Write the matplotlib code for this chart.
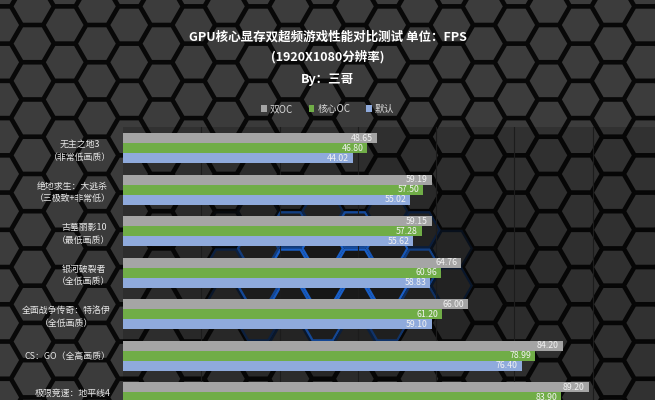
import numpy as np
import matplotlib
matplotlib.use("Agg")
import matplotlib.pyplot as plt
from matplotlib.collections import PolyCollection
from matplotlib.patches import Patch

plt.rcParams['font.family'] = ['Noto Sans CJK SC', 'DejaVu Sans']

# ---------------- data ----------------
categories = [
    "无主之地3\n（非常低画质）",
    "绝地求生：大逃杀\n（三极致+非常低）",
    "古墓丽影10\n（最低画质）",
    "银河破裂者\n（全低画质）",
    "全面战争传奇：特洛伊\n（全低画质）",
    "CS：GO（全高画质）",
    "极限竞速：地平线4\n（极低画质）",
]
series_names = ["双OC", "核心OC", "默认"]
dual_oc = [48.65, 59.19, 59.15, 64.76, 66.00, 84.20, 89.20]
core_oc = [46.80, 57.50, 57.28, 60.96, 61.20, 78.99, 83.90]
default = [44.02, 55.02, 55.62, 58.83, 59.10, 76.40, 79.20]
series_values = [dual_oc, core_oc, default]
series_colors = ["#a5a5a5", "#70ad47", "#8faadc"]

title_lines = ["GPU核心显存双超频游戏性能对比测试 单位：FPS",
               "(1920X1080分辨率)",
               "By：三哥"]

W, H = 655, 400
fig = plt.figure(figsize=(W / 100, H / 100), dpi=100)
fig.patch.set_facecolor("#111111")

# ---------------- hexagon background ----------------
bg = fig.add_axes([0, 0, 1, 1], zorder=0)
bg.set_xlim(0, W)
bg.set_ylim(H, 0)
bg.axis("off")
R = 21.5
dx = 1.5 * R
dy = np.sqrt(3) * R
x0, y0 = 580.7, 25.0
polys, fcs, ecs = [], [], []
ang = np.deg2rad(np.arange(0, 360, 60))
blue = np.array([0.12, 0.45, 0.95])
kmin = int(np.floor((0 - x0) / dx)) - 2
kmax = int(np.ceil((W - x0) / dx)) + 2
for k in range(kmin, kmax + 1):
    cx = x0 + k * dx
    off = dy / 2 if k % 2 else 0
    for j in range(-3, int(H / dy) + 3):
        cy = y0 + j * dy + off
        verts = np.column_stack([cx + (R - 1.3) * np.cos(ang), cy + (R - 1.3) * np.sin(ang)])
        polys.append(verts)
        d = np.exp(-((cx - 335) / 150) ** 2 - ((cy - 275) / 85) ** 2)
        g = 0.235 * (1 - 0.55 * d)
        fcs.append((g, g, g))
        db = np.exp(-((cx - 335) / 115) ** 2 - ((cy - 275) / 70) ** 2)
        e = float(np.clip((db - 0.25) / 0.5, 0, 1))
        ecs.append(tuple(np.array([0.03, 0.03, 0.03]) * (1 - e) + blue * e))
pc = PolyCollection(polys, facecolors=fcs, edgecolors=ecs, linewidths=1.7)
bg.add_collection(pc)

# ---------------- main axes ----------------
pitch = 41.5
first_center = 148.0
n = len(categories)
top_px = first_center - pitch / 2
bot_px = first_center + (n - 0.5) * pitch
left_px = 123
scale = 5.22
ax = fig.add_axes([left_px / W, 1 - bot_px / H, (W - left_px) / W, (bot_px - top_px) / H], zorder=2)
ax.set_facecolor((0, 0, 0, 0.18))
ax.set_xlim(0, (W - left_px) / scale)
ax.set_ylim(n - 0.5, -0.5)
for s in ax.spines.values():
    s.set_visible(False)

y = np.arange(n)
bh = 10.0 / pitch
offsets = [-bh, 0, bh]
for vals, col, off, name in zip(series_values, series_colors, offsets, series_names):
    bars = ax.barh(y + off, vals, height=bh, color=col, label=name, zorder=3)
    for b, v in zip(bars, vals):
        ax.annotate(f"{v:.2f}", xy=(b.get_width(), b.get_y() + b.get_height() / 2),
                    xytext=(-2.8, 0), textcoords="offset points", ha="right", va="center",
                    fontsize=6.3, color="#f2f2f2", zorder=4)

ax.set_xticks(np.arange(15, 101, 15))
ax.grid(axis="x", color="#1c1c1c", linewidth=0.8)
ax.set_axisbelow(True)
ax.tick_params(axis="x", bottom=False, labelbottom=False)
ax.set_yticks(y)
ax.set_yticklabels(categories)
ax.tick_params(axis="y", length=0, pad=9, labelsize=6.4, labelcolor="#e8e8e8")
for t in ax.get_yticklabels():
    t.set_multialignment("center")
    t.set_linespacing(1.55)

# ---------------- titles ----------------
ys = [37, 57, 79]
for txt, yy in zip(title_lines, ys):
    fig.text(0.5, 1 - yy / H, txt, ha="center", va="center", fontsize=9,
             fontweight="bold", color="white", zorder=5)

handles = [Patch(facecolor=c, edgecolor="none") for c in series_colors]
fig.legend(handles, series_names, loc="center", bbox_to_anchor=(0.5, 1 - 109 / H),
           ncol=3, frameon=False, fontsize=7, labelcolor="#d9d9d9",
           handlelength=0.6, handleheight=0.6, handletextpad=0.3, columnspacing=1.6)

fig.savefig("out.png", dpi=100, facecolor=fig.get_facecolor())
